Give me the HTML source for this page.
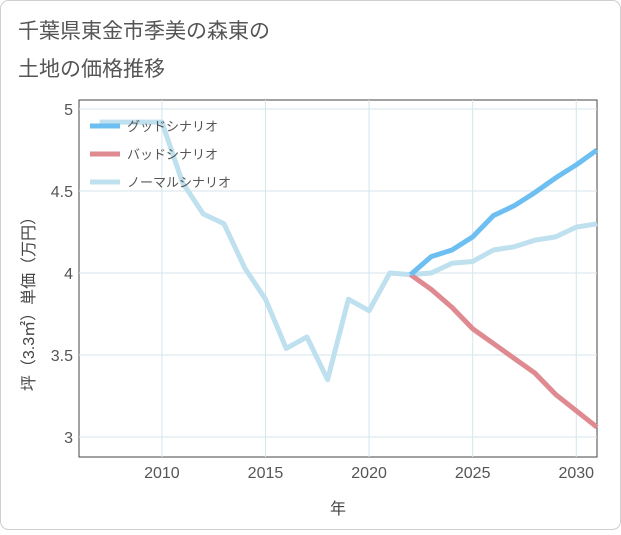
<!DOCTYPE html>
<html><head><meta charset="utf-8"><style>
body{margin:0;background:#fff;}
#wrap{width:621px;height:530px;position:relative;font-family:"Liberation Sans","Noto Sans CJK JP",sans-serif;}
</style></head><body>
<div id="wrap">
<svg id="chart" width="621" height="530" xmlns="http://www.w3.org/2000/svg">
<rect x="0.5" y="0.5" width="620" height="529" rx="8" fill="#fff" stroke="#cfcfcf"/>
<text x="18" y="38" font-size="21" fill="#555">千葉県東金市季美の森東の</text>
<text x="18" y="76" font-size="21" fill="#555">土地の価格推移</text>
<rect x="79" y="100" width="518" height="357" fill="none" stroke="#444" stroke-width="1"/>
<g id="grid"></g><g id="series"></g><g id="legend"></g>
<text x="338" y="514" font-size="16" fill="#444" text-anchor="middle">年</text>
<text transform="translate(34,300) rotate(-90)" font-size="16" fill="#444" text-anchor="middle">坪（3.3㎡）単価（万円）</text>
</svg>
</div>
<script>
const years=[2007,2008,2009,2010,2011,2012,2013,2014,2015,2016,2017,2018,2019,2020,2021,2022,2023,2024,2025,2026,2027,2028,2029,2030,2031];
const normalValues=[4.92,4.92,4.92,4.92,4.55,4.36,4.30,4.03,3.84,3.54,3.61,3.35,3.84,3.77,4.00,3.99,4.00,4.06,4.07,4.14,4.16,4.20,4.22,4.28,4.30];
const futureYears=[2022,2023,2024,2025,2026,2027,2028,2029,2030,2031];
const goodValues=[3.99,4.10,4.14,4.22,4.35,4.41,4.49,4.58,4.66,4.75];
const badValues=[3.99,3.90,3.79,3.66,3.57,3.48,3.39,3.26,3.16,3.06];
const xTicks=[2010,2015,2020,2025,2030];
const yTicks=[3,3.5,4,4.5,5];
const yTickLabels=["3","3.5","4","4.5","5"];
const seriesNames=["グッドシナリオ","バッドシナリオ","ノーマルシナリオ"];

const NS="http://www.w3.org/2000/svg";
const X0=79,X1=597,Y0=100,Y1=457;
function xs(v){return X0+(v-2006)*(X1-X0)/25;}
function ys(v){return 437-(v-3)*164;}
function mk(t,a,p){const e=document.createElementNS(NS,t);for(const k in a)e.setAttribute(k,a[k]);p.appendChild(e);return e;}
const grid=document.getElementById('grid');
xTicks.forEach(t=>{
 const l=mk('line',{x1:xs(t),x2:xs(t),y1:Y0,y2:Y1,stroke:'#d5e5ee','stroke-width':1},grid);
 
 
 const tx=mk('text',{x:xs(t),y:478,'font-size':16,fill:'#555','text-anchor':'middle'},grid);
 tx.textContent=t;
 
 
});
yTicks.forEach((t,i)=>{
 const l=mk('line',{x1:X0,x2:X1,y1:ys(t),y2:ys(t),stroke:'#d5e5ee','stroke-width':1},grid);
 
 
 const tx=mk('text',{x:73,y:ys(t)+6,'font-size':16,fill:'#555','text-anchor':'end'},grid);
 tx.textContent=yTickLabels[i];
 
 
});
const sg=document.getElementById('series');
function line(xv,yv,color,name){
 const d=xv.map((x,i)=>(i?'L':'M')+xs(x).toFixed(1)+','+ys(yv[i]).toFixed(1)).join(' ');
 const p=mk('path',{d:d,fill:'none',stroke:color,'stroke-width':5,'stroke-linejoin':'round'},sg);
 
 
}
line(years,normalValues,'#bfe0ee','normal-scenario-line');
line(futureYears,badValues,'#df8a90','bad-scenario-line');
line(futureYears,goodValues,'#6dbff2','good-scenario-line');
const lg=document.getElementById('legend');
const cols=['#6dbff2','#df8a90','#bfe0ee'];
seriesNames.forEach((n,i)=>{
 const y=126+i*28;
 const l=mk('line',{x1:90,x2:120,y1:y,y2:y,stroke:cols[i],'stroke-width':5},lg);
 
 
 const t=mk('text',{x:127,y:y+5,'font-size':13,fill:'#555'},lg);
 t.textContent=n;
 
 
});
</script>
</body></html>
